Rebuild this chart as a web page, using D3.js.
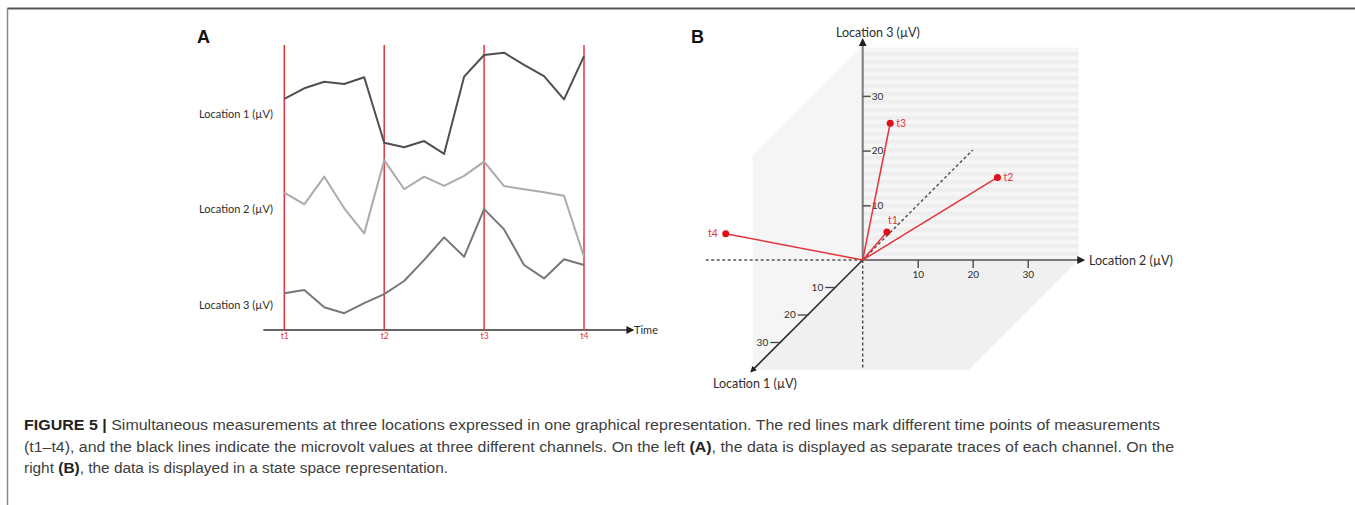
<!DOCTYPE html>
<html>
<head>
<meta charset="utf-8">
<script src="https://cdn.jsdelivr.net/npm/d3@7"></script>
<style>
  html, body { margin: 0; padding: 0; background: #fff; }
  svg { display: block; }
</style>
</head>
<body>
<svg id="fig" width="1355" height="505"></svg>
<script>
// ---- Panel A: traces of the three channels over time ----
const timeSteps = [0, 1, 2, 3, 4, 5, 6, 7, 8, 9, 10, 11, 12, 13, 14, 15];
const loc1 = [81.1, 84.8, 87.1, 86.3, 88.7, 65.7, 64.1, 66.3, 61.8, 88.9, 96.5, 97.3, 93.0, 89.1, 80.9, 96.1];
const loc2 = [48.2, 44.1, 53.8, 42.7, 33.9, 59.6, 49.4, 53.8, 50.6, 54.1, 59.1, 50.5, 49.4, 48.3, 47.1, 25.7];
const loc3 = [12.9, 14.0, 8.0, 5.9, 9.4, 12.6, 17.2, 24.6, 32.5, 25.7, 42.4, 35.3, 22.8, 18.1, 24.8, 22.8];
const channelNames = ["Location 1 (µV)", "Location 2 (µV)", "Location 3 (µV)"];
const markerSteps = [0, 5, 10, 15];
const markerLabels = ["t1", "t2", "t3", "t4"];

// ---- Panel B: states at t1..t4 in (Location 1, Location 2, Location 3) ----
const stateLabels = ["t1", "t2", "t3", "t4"];
const stateLoc1 = [0, 0, 0, 0];
const stateLoc2 = [4.4, 24.5, 5.0, -24.9];
const stateLoc3 = [5.1, 15.1, 25.0, 4.8];
const axisTicks = [10, 20, 30];

const RED = "#e3343c";
const svg = d3.select("#fig");

// page frame
svg.append("line").attr("x1", 7.5).attr("x2", 1355).attr("y1", 8.5).attr("y2", 8.5)
  .attr("stroke", "#555").attr("stroke-width", 2);
svg.append("line").attr("x1", 7.5).attr("x2", 7.5).attr("y1", 8).attr("y2", 505)
  .attr("stroke", "#8a8a8a").attr("stroke-width", 1.5);

// arrow marker
const defs = svg.append("defs");
function arrow(id, color) {
  defs.append("marker").attr("id", id).attr("viewBox", "0 0 10 10")
    .attr("refX", 2).attr("refY", 5).attr("markerWidth", 4).attr("markerHeight", 4)
    .attr("orient", "auto-start-reverse").attr("markerUnits", "strokeWidth")
    .append("path").attr("d", "M0,0 L10,5 L0,10 z").attr("fill", color);
}
arrow("arrGray", "#222");
arrow("arrDark", "#222");

const chartFont = "Lato, 'Open Sans', sans-serif";
const labelColor = "#2e2e2e";

// ================= Panel A =================
const gA = svg.append("g");
const xA = d3.scaleLinear().domain([0, 15]).range([284.3, 584]);
const yA = d3.scaleLinear().domain([0, 100]).range([330, 45]);

gA.append("text").attr("x", 197).attr("y", 43).text("A")
  .attr("font-family", "'Liberation Sans', Arial, sans-serif").attr("font-weight", "bold")
  .attr("font-size", 18).attr("fill", "#111");

// time axis
const axisA = d3.axisBottom(xA).tickValues(markerSteps).tickSize(0).tickPadding(3)
  .tickFormat((d, i) => markerLabels[i]);
const gAxisA = gA.append("g").attr("transform", "translate(0,330)").call(axisA);
gAxisA.select(".domain").remove();
gAxisA.selectAll("text").attr("fill", RED).attr("font-size", 8.5).attr("font-family", chartFont);
gA.append("line").attr("x1", xA(-1.05)).attr("x2", xA(17.2)).attr("y1", 330).attr("y2", 330)
  .attr("stroke", "#666").attr("stroke-width", 2).attr("marker-end", "url(#arrGray)");
gA.append("text").attr("x", 634).attr("y", 334).text("Time")
  .attr("font-family", chartFont).attr("font-size", 11).attr("fill", labelColor);

// time marker lines
gA.selectAll("line.mark").data(markerSteps).join("line").attr("class", "mark")
  .attr("x1", d => xA(d)).attr("x2", d => xA(d)).attr("y1", 45).attr("y2", 331)
  .attr("stroke", RED).attr("stroke-width", 1.5);

// traces
const lineA = d3.line().x((d, i) => xA(timeSteps[i])).y(d => yA(d));
const traces = [
  { values: loc1, color: "#4f4f4f" },
  { values: loc2, color: "#ababab" },
  { values: loc3, color: "#777777" }
];
gA.selectAll("path.trace").data(traces).join("path").attr("class", "trace")
  .attr("d", d => lineA(d.values)).attr("fill", "none")
  .attr("stroke", d => d.color).attr("stroke-width", 2).attr("stroke-linejoin", "round");

// channel names
const nameLevels = [74.5, 40.9, 7.5];
gA.selectAll("text.chan").data(channelNames).join("text").attr("class", "chan")
  .attr("x", 199).attr("y", (d, i) => yA(nameLevels[i])).text(d => d)
  .attr("font-family", chartFont).attr("font-size", 11).attr("fill", labelColor);

// ================= Panel B =================
const gB = svg.append("g");
gB.append("text").attr("x", 691).attr("y", 42.7).text("B")
  .attr("font-family", "'Liberation Sans', Arial, sans-serif").attr("font-weight", "bold")
  .attr("font-size", 18).attr("fill", "#111");

const ox = 862.7, oy = 260;
const s2 = d3.scaleLinear().domain([0, 40]).range([ox, ox + 220]);      // Location 2 → x
const s3 = d3.scaleLinear().domain([0, 40]).range([oy, oy - 218.8]);    // Location 3 → y
const s1 = d3.scaleLinear().domain([0, 40]).range([0, 110]);            // Location 1 → oblique offset
function proj(l1, l2, l3) {
  return [s2(l2) - s1(l1), s3(l3) + s1(l1)];
}

// planes
const wallPts = [proj(0, 0, 39.3), proj(0, 0, 0), proj(40, 0, 0), proj(40, 0, 39.3)];
const floorPts = [proj(0, 0, 0), proj(0, 39.2, 0), proj(40, 39.2, 0), proj(40, 0, 0)];
gB.append("polygon").attr("points", floorPts.map(p => p.join(",")).join(" ")).attr("fill", "#f0f0f0");
gB.append("polygon").attr("points", wallPts.map(p => p.join(",")).join(" ")).attr("fill", "#f5f5f5");

// back wall with horizontal stripes
const backTop = s3(38.8), backRight = s2(39.2);
gB.append("rect").attr("x", ox).attr("y", backTop).attr("width", backRight - ox)
  .attr("height", oy - backTop).attr("fill", "#eeeeee");
const stripeYs = d3.range(backTop, oy - 2, 8);
gB.selectAll("rect.stripe").data(stripeYs).join("rect").attr("class", "stripe")
  .attr("x", ox).attr("y", d => d).attr("width", backRight - ox).attr("height", 4)
  .attr("fill", "#f6f6f6");

// dashed extensions of the axes
const dashed = [
  [proj(0, 0, 0), proj(0, -29, 0)],
  [proj(0, 0, 0), proj(0, 0, -20)],
  [proj(0, 0, 0), proj(-40, 0, 0)]
];
gB.selectAll("line.dash").data(dashed).join("line").attr("class", "dash")
  .attr("x1", d => d[0][0]).attr("y1", d => d[0][1]).attr("x2", d => d[1][0]).attr("y2", d => d[1][1])
  .attr("stroke", "#555").attr("stroke-width", 1.5).attr("stroke-dasharray", "3,2.5");

// Location 2 axis
gB.append("line").attr("x1", ox).attr("y1", oy).attr("x2", s2(39.3)).attr("y2", oy)
  .attr("stroke", "#7a7a7a").attr("stroke-width", 2).attr("marker-end", "url(#arrGray)");
const ax2 = gB.append("g").attr("transform", `translate(0,${oy})`)
  .call(d3.axisBottom(s2).tickValues(axisTicks).tickSize(8).tickPadding(3));
ax2.select(".domain").remove();
ax2.selectAll(".tick line").attr("stroke", "#555").attr("stroke-width", 1.5);
ax2.selectAll("text").attr("font-family", chartFont).attr("font-size", 10).attr("fill", labelColor);

// Location 3 axis
gB.append("line").attr("x1", ox).attr("y1", oy).attr("x2", ox).attr("y2", s3(39.4))
  .attr("stroke", "#7a7a7a").attr("stroke-width", 2).attr("marker-end", "url(#arrGray)");
const ax3 = gB.append("g").attr("transform", `translate(${ox},0)`)
  .call(d3.axisRight(s3).tickValues(axisTicks).tickSize(8).tickPadding(1));
ax3.select(".domain").remove();
ax3.selectAll(".tick line").attr("stroke", "#555").attr("stroke-width", 1.5);
ax3.selectAll("text").attr("font-family", chartFont).attr("font-size", 10).attr("fill", labelColor);

// Location 1 axis (oblique)
const l1End = proj(39.6, 0, 0);
gB.append("line").attr("x1", ox).attr("y1", oy).attr("x2", l1End[0]).attr("y2", l1End[1])
  .attr("stroke", "#2a2a2a").attr("stroke-width", 1.6).attr("marker-end", "url(#arrDark)");
const t1g = gB.selectAll("g.l1tick").data(axisTicks).join("g").attr("class", "l1tick")
  .attr("transform", d => `translate(${proj(d, 0, 0)[0]},${proj(d, 0, 0)[1]})`);
t1g.append("line").attr("x1", -10).attr("x2", 1).attr("stroke", "#444").attr("stroke-width", 1.3);
t1g.append("text").attr("x", -12).attr("dy", "0.32em").attr("text-anchor", "end").text(d => d)
  .attr("font-family", chartFont).attr("font-size", 10).attr("fill", labelColor);

// axis titles
gB.append("text").attr("x", 878).attr("y", 36.5).attr("text-anchor", "middle").text("Location 3 (µV)")
  .attr("font-family", chartFont).attr("font-size", 12.5).attr("fill", labelColor);
gB.append("text").attr("x", 1089).attr("y", 265).text("Location 2 (µV)")
  .attr("font-family", chartFont).attr("font-size", 12.5).attr("fill", labelColor);
gB.append("text").attr("x", 713).attr("y", 387.5).text("Location 1 (µV)")
  .attr("font-family", chartFont).attr("font-size", 12.5).attr("fill", labelColor);

// state vectors
const states = stateLabels.map((lab, i) => ({
  lab, p: proj(stateLoc1[i], stateLoc2[i], stateLoc3[i])
}));
gB.selectAll("line.vec").data(states).join("line").attr("class", "vec")
  .attr("x1", ox).attr("y1", oy).attr("x2", d => d.p[0]).attr("y2", d => d.p[1])
  .attr("stroke", RED).attr("stroke-width", 1.5);
gB.selectAll("circle.state").data(states).join("circle").attr("class", "state")
  .attr("cx", d => d.p[0]).attr("cy", d => d.p[1]).attr("r", 3.5).attr("fill", "#e0101a");
const labelOffsets = { t1: [1, -8, "start"], t2: [6, 3.5, "start"], t3: [6, 3.5, "start"], t4: [-8, 3.5, "end"] };
gB.selectAll("text.state").data(states).join("text").attr("class", "state")
  .attr("x", d => d.p[0] + labelOffsets[d.lab][0]).attr("y", d => d.p[1] + labelOffsets[d.lab][1])
  .attr("text-anchor", d => labelOffsets[d.lab][2]).text(d => d.lab)
  .attr("font-family", chartFont).attr("font-size", 10.5).attr("fill", RED);

// ================= Caption =================
const capFont = "'Liberation Sans', Arial, sans-serif";
const captionLines = [
  { y: 430, len: 1136, parts: [["FIGURE 5 | ", true], ["Simultaneous measurements at three locations expressed in one graphical representation. The red lines mark different time points of measurements", false]] },
  { y: 451.5, len: 1150, parts: [["(t1–t4), and the black lines indicate the microvolt values at three different channels. On the left ", false], ["(A)", true], [", the data is displayed as separate traces of each channel. On the", false]] },
  { y: 473, len: 424, parts: [["right ", false], ["(B)", true], [", the data is displayed in a state space representation.", false]] }
];
captionLines.forEach(line => {
  const t = svg.append("text").attr("x", 24).attr("y", line.y)
    .attr("font-family", capFont).attr("font-size", 15.5).attr("fill", "#404040")
    .attr("textLength", line.len).attr("lengthAdjust", "spacingAndGlyphs");
  line.parts.forEach(([s, b]) => {
    t.append("tspan").text(s).attr("font-weight", b ? "bold" : "normal").attr("fill", b ? "#222" : "#404040");
  });
});
</script>
</body>
</html>
